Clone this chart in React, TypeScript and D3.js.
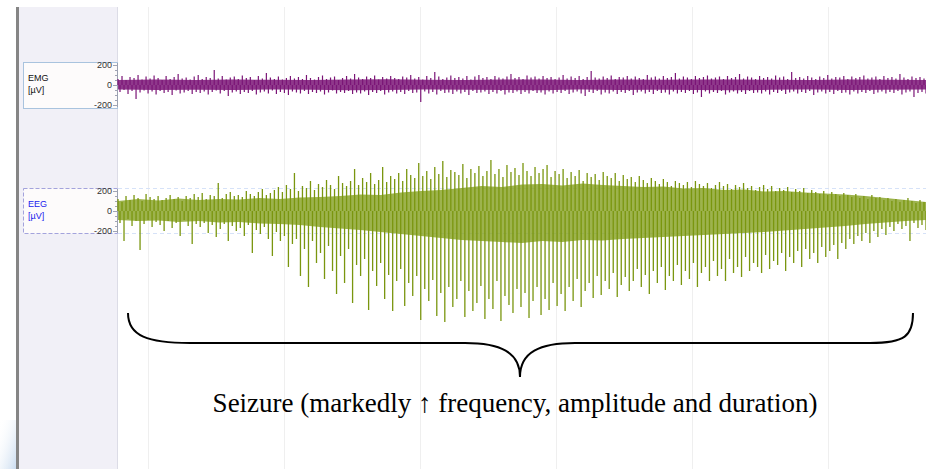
import React from 'react'
import * as d3 from 'd3'

// EEG trace, upper and lower excursion of each sample (µV)
const eegHi = [
  120, 90, 150, 110, 160, 130, 100, 170, 140, 120,
  150, 110, 130, 160, 120, 140, 100, 150, 130, 170,
  140, 180, 120, 160, 150, 280, 130, 170, 190, 150,
  160, 140, 200, 170, 150, 190, 220, 160, 180, 210,
  240, 190, 260, 220, 380, 200, 250, 230, 300, 210,
  270, 240, 310, 260, 220, 350, 280, 250, 300, 420,
  260, 330, 290, 380, 270, 310, 440, 290, 350, 320,
  380, 300, 420, 360, 330, 480, 350, 400, 320, 440,
  370, 500, 340, 410, 390, 360, 470, 330, 420, 380,
  450, 350, 400, 510, 370, 420, 340, 460, 390, 430,
  360, 480, 400, 350, 440, 380, 420, 460, 340, 400,
  370, 420, 330, 390, 350, 410, 300, 380, 340, 370,
  310, 390, 350, 330, 380, 300, 360, 320, 340, 290,
  350, 310, 280, 330, 300, 270, 320, 290, 250, 300,
  280, 260, 290, 240, 300, 270, 250, 280, 230, 260,
  290, 250, 270, 220, 260, 240, 280, 230, 250, 210,
  240, 260, 220, 250, 200, 230, 210, 240, 190, 220,
  200, 230, 180, 210, 190, 170, 200, 160, 190, 170,
  150, 180, 160, 140, 170, 130, 150, 120, 160, 130,
  140, 110, 130, 100, 120, 90, 110, 130, 100, 80,
  110, 90
]
const eegLo = [
  -120, -300, -80, -150, -100, -390, -130, -90, -160, -110,
  -140, -200, -100, -170, -120, -250, -90, -150, -330, -130,
  -160, -120, -220, -140, -260, -180, -130, -300, -150, -200,
  -170, -250, -140, -420, -190, -230, -160, -280, -450, -210,
  -300, -250, -560, -330, -280, -650, -380, -760, -300, -520,
  -420, -680, -350, -600, -830, -450, -720, -380, -920, -540,
  -650, -480, -990, -600, -750, -520, -880, -640, -1000, -700,
  -580, -950, -720, -850, -650, -1090, -780, -900, -690, -1050,
  -820, -1110, -760, -960, -880, -700, -1060, -800, -1000, -920,
  -750, -1080, -880, -980, -700, -1100, -850, -940, -1020, -780,
  -960, -820, -1070, -900, -760, -1040, -880, -990, -720, -950,
  -830, -1000, -760, -900, -680, -960, -800, -720, -870, -650,
  -840, -700, -780, -620, -860, -740, -660, -800, -700, -580,
  -760, -640, -830, -600, -720, -560, -790, -650, -700, -540,
  -740, -600, -680, -520, -760, -620, -560, -700, -500, -650,
  -580, -700, -480, -620, -560, -660, -460, -600, -520, -560,
  -620, -440, -580, -500, -540, -420, -600, -460, -520, -400,
  -560, -380, -480, -420, -520, -360, -460, -400, -340, -480,
  -320, -380, -280, -330, -250, -300, -220, -320, -200, -260,
  -180, -240, -160, -200, -130, -180, -150, -300, -120, -170,
  -140, -190
]
// dense core band of the EEG, read every ~20 px
const eegCoreHi = [
  100, 120, 105, 125, 110, 120, 115, 130, 120, 135,
  140, 150, 165, 160, 185, 200, 210, 230, 250, 240,
  265, 270, 255, 275, 260, 250, 240, 245, 225, 230,
  210, 215, 195, 200, 185, 175, 165, 150, 130, 110, 90
]
const eegCoreLo = [
  -90, -100, -95, -110, -100, -115, -110, -125, -130, -140,
  -160, -175, -190, -210, -230, -250, -270, -290, -300, -310,
  -320, -300, -310, -290, -295, -280, -270, -260, -250, -240,
  -230, -220, -210, -195, -180, -165, -150, -130, -115, -100, -90
]

// EMG trace, upper and lower excursion of each sample (µV)
const emgHi = [
  60, 90, 50, 80, 70, 100, 55, 85, 65, 95,
  70, 50, 90, 60, 80, 110, 65, 75, 55, 85,
  100, 60, 80, 70, 150, 65, 90, 55, 75, 85,
  60, 95, 70, 80, 50, 90, 65, 120, 75, 60,
  85, 55, 70, 90, 65, 80, 60, 100, 70, 55,
  80, 95, 60, 75, 85, 50, 70, 90, 65, 110,
  75, 60, 85, 70, 95, 55, 80, 65, 90, 70,
  60, 85, 75, 100, 65, 80, 55, 90, 70, 130,
  85, 60, 75, 95, 70, 80, 65, 90, 55, 85,
  100, 70, 80, 60, 90, 75, 65, 85, 110, 70,
  80, 60, 95, 75, 85, 65, 90, 70, 80, 60,
  75, 100, 65, 85, 70, 90, 60, 80, 140, 75,
  65, 85, 70, 95, 60, 80, 75, 90, 65, 85,
  70, 60, 100, 75, 85, 65, 90, 70, 80, 120,
  65, 85, 75, 60, 90, 70, 80, 95, 65, 75,
  85, 60, 90, 70, 80, 110, 65, 85, 75, 60,
  90, 70, 80, 65, 95, 75, 85, 60, 130, 70,
  80, 65, 90, 75, 60, 85, 70, 100, 65, 80,
  75, 90, 60, 85, 70, 80, 95, 65, 75, 85,
  60, 90, 70, 80, 65, 110, 75, 60, 85, 70,
  80, 65
]
const emgLo = [
  -70, -50, -90, -60, -140, -75, -55, -85, -65, -95,
  -60, -80, -70, -100, -55, -85, -75, -60, -90, -70,
  -80, -65, -95, -70, -55, -85, -60, -110, -75, -65,
  -90, -70, -80, -60, -95, -75, -65, -85, -55, -90,
  -70, -80, -100, -65, -75, -85, -60, -90, -70, -80,
  -65, -95, -75, -55, -85, -70, -80, -60, -90, -75,
  -85, -65, -100, -70, -80, -60, -95, -75, -65, -85,
  -70, -90, -60, -80, -75, -170, -65, -85, -70, -95,
  -60, -80, -75, -90, -65, -85, -70, -100, -60, -80,
  -75, -65, -90, -70, -85, -60, -95, -75, -80, -65,
  -90, -70, -85, -60, -80, -75, -95, -65, -85, -70,
  -80, -60, -90, -75, -65, -85, -110, -70, -80, -60,
  -95, -75, -85, -65, -90, -70, -80, -60, -100, -75,
  -65, -85, -70, -90, -60, -80, -75, -95, -65, -85,
  -70, -80, -60, -90, -75, -120, -65, -85, -70, -80,
  -60, -95, -75, -65, -85, -70, -90, -60, -80, -75,
  -85, -65, -95, -70, -80, -60, -90, -75, -65, -85,
  -70, -80, -60, -100, -75, -65, -85, -70, -90, -60,
  -80, -75, -95, -65, -85, -70, -80, -60, -90, -75,
  -65, -85, -70, -80, -60, -95, -75, -65, -120, -80,
  -70, -85
]
const emgCoreHi = [50, 55, 50, 55, 52, 50, 55, 58, 52, 50, 55, 56, 50, 54, 52, 55, 56, 52, 50, 54, 52, 50]
const emgCoreLo = [-45, -50, -48, -50, -46, -48, -52, -50, -46, -48, -50, -52, -46, -50, -48, -50, -52, -48, -46, -50, -48, -46]

const tickValues = [200, 0, -200]
const minorTicks = [200, 150, 100, 50, 0, -50, -100, -150, -200]
const gridSeconds = [0, 1, 2, 3, 4, 5]
const timeSpan = [-0.22, 5.72]
const annotation = 'Seizure (markedly \u2191 frequency, amplitude and duration)'

const W = 926
const H = 469
const plotLeft = 118

// up strokes at each sample, down strokes half a sample later
const spikes = (hi, lo, x, y) => {
  const n = Math.min(hi.length, lo.length)
  const p = d3.path()
  for (let i = 0; i < n; i++) {
    const xa = x(i), xb = x(i + 0.5)
    p.moveTo(xa, y(0)); p.lineTo(xa, y(hi[i]))
    p.moveTo(xb, y(0)); p.lineTo(xb, y(lo[i]))
  }
  return p.toString()
}

const core = (hi, lo, x, y) =>
  d3.area()
    .x((d, i) => x(i))
    .y0((d, i) => y(lo[i]))
    .y1(d => y(d))(hi)

const Channel = ({ name, y, top, bottom, dashed, labelColor }) => (
  <g>
    <rect x={23.5} y={top + 0.5} width={94} height={bottom - top}
      fill="#fdfbfb" stroke={dashed ? '#a3a3dc' : '#a9c3de'}
      strokeDasharray={dashed ? '4,2' : null} />
    <text x={28} y={top + 19} fontSize={9} fill={labelColor}
      fontFamily="'Liberation Sans', Arial, sans-serif">{name}</text>
    <text x={28} y={top + 31} fontSize={9} fill={labelColor}
      fontFamily="'Liberation Sans', Arial, sans-serif">[µV]</text>
    <line x1={117.5} x2={117.5} y1={y(200) - 2} y2={y(-200) + 2} stroke="#9aa0b0" />
    {minorTicks.map(t => (
      <line key={t} x1={t % 200 === 0 ? 113 : 115} x2={117.5}
        y1={Math.round(y(t)) + 0.5} y2={Math.round(y(t)) + 0.5} stroke="#a0a4b4" />
    ))}
    {tickValues.map(t => (
      <text key={t} x={112} y={y(t)} dy="0.35em" textAnchor="end" fontSize={9}
        fill="#333" fontFamily="'Liberation Sans', Arial, sans-serif">{t}</text>
    ))}
  </g>
)

export default function App() {
  const timeX = d3.scaleLinear().domain(timeSpan).range([plotLeft, W])
  const sampleX = d3.scaleLinear().domain([0, eegHi.length - 0.5]).range([plotLeft, W])
  const eegCoreX = d3.scaleLinear().domain([0, eegCoreHi.length - 1]).range([plotLeft, W])
  const emgCoreX = d3.scaleLinear().domain([0, emgCoreHi.length - 1]).range([plotLeft, W])
  const emgY = d3.scaleLinear().domain([-200, 200]).range([105, 65])
  const eegY = d3.scaleLinear().domain([-200, 200]).range([231, 191])

  const brace = d3.path()
  brace.moveTo(128, 313)
  brace.bezierCurveTo(128, 336, 148, 343, 190, 343)
  brace.lineTo(465, 343)
  brace.bezierCurveTo(500, 343, 520, 352, 520, 377)
  brace.bezierCurveTo(520, 352, 540, 343, 575, 343)
  brace.lineTo(870, 343)
  brace.bezierCurveTo(905, 343, 913, 336, 913, 313)

  return (
    <svg width={W} height={H} style={{ position: 'absolute', left: 0, top: 0 }}>
      <defs>
        <linearGradient id="glow" x1="0" y1="0" x2="1" y2="1">
          <stop offset="0" stopColor="#ffffff" stopOpacity={0} />
          <stop offset="1" stopColor="#c4d8ee" stopOpacity={0.9} />
        </linearGradient>
      </defs>
      <rect width={W} height={H} fill="#fff" />
      <rect x={19} y={7} width={98} height={H - 7} fill="#f1f0f7" />
      <rect x={16} y={7} width={3} height={H - 7} fill="#858585" />
      <rect x={0} y={420} width={16} height={49} fill="url(#glow)" />
      <line x1={117.5} x2={117.5} y1={7} y2={H} stroke="#dcdce6" />
      {gridSeconds.map(s => (
        <line key={s} x1={Math.round(timeX(s)) + 0.5} x2={Math.round(timeX(s)) + 0.5}
          y1={7} y2={H} stroke="#efefef" />
      ))}

      <line x1={plotLeft} x2={W} y1={188.5} y2={188.5} stroke="#d6e2f8" strokeDasharray="4,3" />
      <line x1={plotLeft} x2={W} y1={233.5} y2={233.5} stroke="#d6e2f8" strokeDasharray="4,3" />

      <Channel name="EMG" y={emgY} top={62} bottom={108} dashed={false} labelColor="#111" />
      <Channel name="EEG" y={eegY} top={188} bottom={233} dashed={true} labelColor="#1a1aee" />

      <path d={core(emgCoreHi, emgCoreLo, emgCoreX, emgY)} fill="#7b1577" opacity={0.85} />
      <path d={spikes(emgHi, emgLo, sampleX, emgY)} fill="none" stroke="#7b1577" strokeWidth={1.2} />
      <path d={core(eegCoreHi, eegCoreLo, eegCoreX, eegY)} fill="#85a020" opacity={0.8} />
      <path d={spikes(eegHi, eegLo, sampleX, eegY)} fill="none" stroke="#7a960f" strokeWidth={1.3} />

      <path d={brace.toString()} fill="none" stroke="#000" strokeWidth={2} />
      <text x={515} y={412} textAnchor="middle" fontSize={27}
        fontFamily="'Liberation Serif', 'Times New Roman', serif" fill="#000">{annotation}</text>
    </svg>
  )
}
